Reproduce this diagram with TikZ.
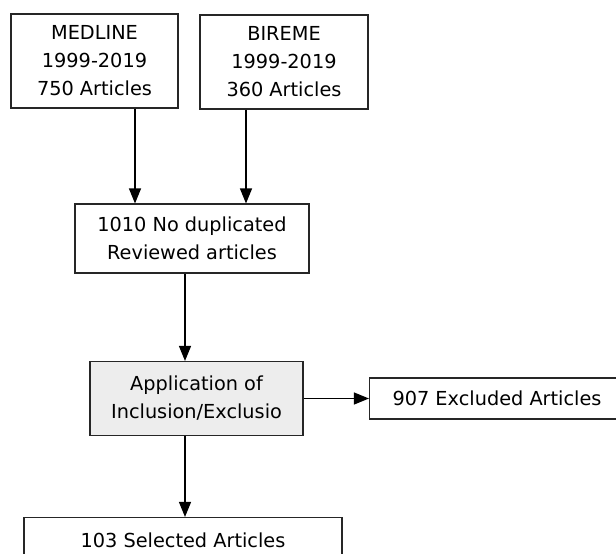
\documentclass[tikz,border=0pt]{standalone}
\usepackage{fontspec}
\setmainfont{DejaVu Sans}
\usetikzlibrary{arrows.meta,calc}
\definecolor{boxgray}{HTML}{EDEDED}
\begin{document}
\begin{tikzpicture}[x=1pt,y=-1pt,
  box/.style={draw=black!85,line width=1.1pt,align=center,inner sep=0pt,
    font=\fontsize{19.3}{28}\selectfont},
  arr/.style={draw=black,line width=1.1pt,-{Triangle[length=15pt,width=12pt]}}]
\useasboundingbox (0,0) rectangle (616,554);
\clip (0,0) rectangle (616,554);
\fill[white] (0,0) rectangle (616,554);
\node[box,minimum width=167pt,minimum height=94pt] (med) at (94.5,61) {MEDLINE\\1999-2019\\750 Articles};
\node[box,minimum width=168pt,minimum height=94pt] (bir) at (284,62) {BIREME\\1999-2019\\360 Articles};
\node[box,minimum width=234pt,minimum height=69pt] (dup) at (192,238.5) {1010 No duplicated\\Reviewed articles};
\node[box,fill=boxgray,minimum width=213pt,minimum height=74pt] (inc) at (196.5,398.5) {Application of\\Inclusion/Exclusio};
\node[box,minimum width=255pt,minimum height=41pt] (exc) at (497,398.5) {907 Excluded Articles};
\node[box,minimum width=318pt,minimum height=46pt] (sel) at (183,540.5) {103 Selected Articles};
\coordinate (xa) at (135,0);
\coordinate (xb) at (246,0);
\coordinate (xc) at (185,0);
\draw[arr] (med.south -| xa) -- (dup.north -| xa);
\draw[arr] (bir.south -| xb) -- (dup.north -| xb);
\draw[arr] (dup.south -| xc) -- (inc.north -| xc);
\draw[arr] (inc.east) -- (exc.west);
\draw[arr] (inc.south -| xc) -- (sel.north -| xc);
\end{tikzpicture}
\end{document}
